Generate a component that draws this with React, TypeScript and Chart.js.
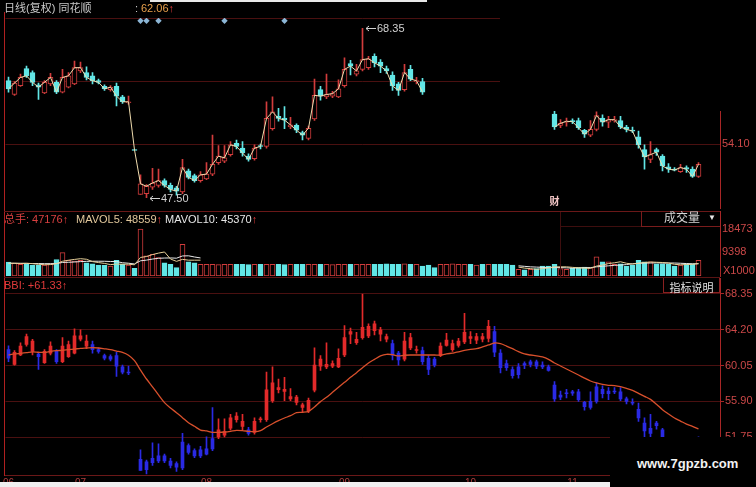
import React, { useEffect, useRef } from 'react';
import { Chart, registerables } from 'chart.js';

Chart.register(...registerables);

const FONT = "'Liberation Sans', 'Noto Sans CJK SC', 'DejaVu Sans', sans-serif";
Chart.defaults.font.family = FONT;

// ---------------- data ----------------
const MONTH_LABELS = ['06', '07', '08', '09', '10', '11'];
const MONTH_START = [0, 12, 33, 56, 77, 94];

const OPEN = [
  61.9, 60.2, 61.3, 63.4, 62.9, 61.4, 60.4, 61.5, 61.7, 60.5,
  61.1, 61.5, 63.1, 62.9, 62.5, 61.9, 61.2, 60.8, 61.2, 59.9,
  59.2, 53.37, 47.9, 48.0, 48.8, 49.0, 49.6, 49.0, 48.7, 48.2,
  50.8, 50.2, 49.6, 49.8, 50.4, 51.8, 52.0, 52.8, 54.2, 53.6,
  52.6, 52.3, 53.9, 53.8, 56.0, 57.5, 57.3, 56.2, 56.4, 55.5,
  54.8, 57.2, 60.8, 59.9, 60.0, 59.9, 61.3, 64.0, 62.7, 63.3,
  63.5, 64.9, 64.2, 63.4, 62.6, 61.5, 60.8, 63.3, 61.8, 61.8,
  60.9, 60.8, 61.2, 62.4, 61.9, 62.4, 62.8, 63.4, 63.0, 63.4,
  63.2, 64.0, 61.5, 60.3, 59.6, 59.0, 60.3, 60.2, 60.5, 60.1,
  59.9, 57.8, 56.4, 56.8, 57.0, 57.0, 55.8, 55.2, 55.9, 57.3,
  56.8, 57.0, 57.0, 56.2, 55.8, 55.0, 53.4, 52.2, 53.4, 52.6,
  51.3, 51.0, 50.7, 51.2, 51.0, 50.1,
];
const HIGH = [
  62.35, 61.8, 62.7, 63.7, 63.1, 61.6, 61.9, 62.8, 61.9, 63.3,
  62.9, 64.3, 64.2, 63.6, 62.9, 62.1, 61.4, 61.3, 61.6, 60.1,
  60.0, 53.37, 50.3, 49.1, 51.1, 51.0, 49.8, 49.3, 48.9, 52.2,
  51.0, 50.4, 50.7, 51.8, 55.2, 53.9, 53.9, 54.4, 54.6, 54.4,
  52.9, 54.0, 54.1, 59.3, 59.9, 58.5, 58.7, 57.4, 56.6, 55.7,
  56.3, 62.1, 61.2, 62.7, 60.6, 62.0, 64.7, 64.4, 63.9, 68.35,
  64.9, 65.2, 64.5, 63.7, 63.0, 61.7, 63.9, 63.8, 62.3, 62.2,
  61.2, 61.0, 62.7, 63.8, 63.0, 63.2, 66.1, 64.0, 63.8, 63.8,
  65.3, 64.6, 61.9, 60.7, 59.9, 60.3, 60.5, 60.7, 60.7, 60.5,
  60.1, 58.2, 57.1, 57.3, 57.2, 57.3, 55.9, 57.0, 58.06, 57.7,
  57.5, 57.5, 57.5, 56.4, 56.2, 55.7, 54.0, 54.4, 53.6, 52.8,
  51.7, 51.2, 51.6, 51.4, 51.3, 51.8,
];
const LOW = [
  60.5, 60.1, 61.2, 62.3, 61.3, 59.6, 60.3, 61.3, 60.3, 60.4,
  61.0, 61.4, 62.9, 62.0, 61.5, 61.5, 60.7, 60.6, 58.8, 59.1,
  59.0, 53.37, 47.9, 47.5, 48.5, 48.8, 48.8, 48.2, 47.8, 48.0,
  49.8, 49.4, 49.4, 49.7, 50.2, 51.6, 51.8, 52.6, 53.5, 52.6,
  52.0, 52.1, 53.5, 53.6, 55.8, 56.9, 56.0, 56.0, 55.5, 54.6,
  54.6, 57.0, 59.5, 59.7, 59.8, 59.8, 61.1, 62.6, 62.5, 63.1,
  63.3, 63.6, 62.9, 62.8, 60.7, 60.1, 60.6, 61.9, 61.5, 60.2,
  59.0, 59.9, 61.1, 62.3, 61.7, 62.2, 62.6, 62.6, 62.6, 62.8,
  62.8, 61.1, 59.2, 59.5, 58.6, 58.6, 59.7, 59.9, 59.7, 59.7,
  59.4, 55.9, 56.1, 56.3, 56.6, 55.9, 54.9, 55.0, 55.7, 56.3,
  56.1, 56.8, 56.0, 55.6, 55.5, 53.6, 51.0, 51.8, 52.7, 50.8,
  50.6, 50.8, 50.6, 50.6, 50.0, 50.0,
];
const CLOSE = [
  60.9, 61.6, 62.3, 62.5, 61.7, 61.1, 61.7, 62.3, 60.5, 62.3,
  62.5, 63.5, 63.5, 62.3, 61.9, 61.7, 60.9, 61.1, 60.0, 59.3,
  59.3, 53.37, 49.2, 48.9, 49.3, 49.6, 49.0, 48.5, 48.3, 51.2,
  50.0, 49.6, 50.3, 50.4, 51.6, 52.6, 52.4, 54.0, 53.8, 53.0,
  52.2, 53.6, 53.8, 57.25, 58.06, 57.25, 57.05, 56.45, 55.8, 55.2,
  56.04, 60.1, 60.0, 60.2, 60.3, 60.9, 63.3, 63.7, 63.1, 64.5,
  64.6, 64.1, 63.7, 63.1, 61.25, 60.7, 62.9, 62.1, 61.9, 60.5,
  59.6, 60.1, 62.3, 63.0, 62.6, 62.9, 63.9, 63.2, 63.4, 63.1,
  64.6, 61.6, 59.8, 59.8, 58.9, 59.9, 60.1, 60.5, 60.0, 59.9,
  59.5, 56.2, 56.65, 56.9, 56.85, 56.1, 55.3, 55.9, 57.6, 56.8,
  57.1, 57.1, 56.2, 55.9, 55.7, 54.0, 52.5, 52.8, 53.1, 51.4,
  51.0, 50.9, 51.2, 51.0, 50.1, 51.6,
];
const VOLUME = [
  5500, 5100, 4600, 4800, 4300, 4200, 4300, 4800, 6500, 9200,
  6200, 5900, 6200, 5200, 4800, 4300, 4200, 3900, 6200, 4600,
  4300, 3000, 18400, 7900, 8500, 7200, 5200, 4600, 3300, 12400,
  5600, 5200, 4600, 4600, 4600, 4500, 4600, 4600, 4600, 4600,
  4500, 4600, 4600, 4600, 4600, 4600, 4500, 4600, 4600, 4600,
  4600, 4600, 4600, 4600, 4500, 4600, 4600, 4600, 4600, 4600,
  4600, 4600, 4600, 4800, 4600, 4600, 4800, 4600, 4600, 3900,
  4300, 3300, 4600, 4600, 4800, 4600, 4600, 4600, 4300, 4600,
  4600, 4600, 4600, 4600, 4300, 2600, 2400, 2600, 2900, 3900,
  3900, 4600, 2900, 2600, 3000, 3300, 3500, 3300, 7500, 5600,
  5600, 4600, 4800, 3900, 4200, 6200, 5600, 5600, 4800, 4800,
  4600, 3900, 4300, 4800, 4800, 6200,
];
// volume moving averages are only shown on two stretches of the picture
const MAVOL_LEFT_START = 0;
const MAVOL5_LEFT = [
  5000, 5000, 4900, 5000, 4860, 4600, 4440, 4480, 4820, 5800,
  6200, 6520, 6800, 6580, 5660, 5280, 4940, 4480, 4680, 4640,
  4640, 4400, 7300, 7640, 8420, 9000, 9440, 6680, 5760, 6540,
  6220, 6220, 6220,
];
const MAVOL10_LEFT = [
  5000, 5000, 5000, 4950, 4900, 4900, 4850, 4850, 4900, 5330,
  5400, 5500, 5660, 5750, 5800, 5800, 5790, 5700, 5670, 5210,
  5020, 4730, 5970, 6240, 6660, 6960, 7060, 7100, 7000, 7880,
  7940, 7470, 7100,
];
const MAVOL_RIGHT_START = 85;
const MAVOL5_RIGHT = [
  3500, 3100, 2900, 2600, 2900, 3200, 3600, 3600, 3600, 3400,
  3200, 3100, 3000, 3900, 4300, 4900, 5200, 5600, 5000, 4700,
  5000, 5300, 5500, 5400, 5300, 5100, 4600, 4400, 4500, 4600,
  4900,
];
const MAVOL10_RIGHT = [
  4000, 3800, 3600, 3500, 3400, 3300, 3300, 3300, 3200, 3100,
  3200, 3300, 3300, 3600, 3800, 4000, 4200, 4300, 4500, 4800,
  5000, 5100, 5100, 5200, 5100, 5100, 5100, 5000, 4900, 4800,
  4800,
];
const BBI = [
  61.28, 61.40, 61.47, 61.55, 61.65, 61.60, 61.58, 61.70, 61.78, 61.82,
  61.90, 61.97, 62.05, 62.09, 62.13, 62.09, 62.00, 61.90, 61.74, 61.58,
  61.25, 60.62, 59.54, 58.50, 57.60, 56.65, 55.76, 55.14, 54.60, 54.02,
  53.44, 53.02, 52.59, 52.48, 52.32, 52.32, 52.36, 52.44, 52.55, 52.52,
  52.44, 52.40, 52.52, 52.94, 53.32, 53.67, 53.98, 54.25, 54.60, 54.64,
  54.76, 55.26, 55.88, 56.38, 56.96, 57.54, 58.11, 58.69, 59.23, 59.81,
  60.36, 60.78, 61.17, 61.36, 61.32, 61.17, 61.25, 61.28, 61.28, 61.28,
  61.28, 61.28, 61.28, 61.40, 61.51, 61.63, 61.82, 61.94, 62.01, 62.21,
  62.44, 62.67, 62.59, 62.32, 62.01, 61.67, 61.40, 61.28, 61.17, 61.05,
  60.78, 60.36, 60.01, 59.66, 59.31, 58.96, 58.61, 58.27, 58.04, 57.88,
  57.77, 57.73, 57.61, 57.42, 57.19, 56.84, 56.49, 56.14, 55.57, 54.95,
  54.45, 53.98, 53.63, 53.28, 53.02, 52.71,
];

const EVENT_MARKS = [22, 23, 25, 36, 46];
const FIN_MARK = 91;
const TOP_HIDDEN_FROM = 70;
const TOP_HIDDEN_TO = 90;

const PRICE_TICKS = [54.10, 61.86, 69.62];
const PRICE_TICK_LABELS = ['54.10', '', ''];
const VOL_TICKS = [9398, 18473];
const BBI_TICKS = [51.75, 55.90, 60.05, 64.20, 68.35];

// ---------------- style ----------------
const RED = '#d23c3c';
const CYAN = '#62e6e6';
const CLOSE_LINE = '#f0dcae';
const GRID = '#4a1010';
const AXIS = '#a82626';
const AXIS_TEXT = '#cc4848';
const BBI_UP = '#e22a2a';
const BBI_DOWN = '#2a2ae4';
const BBI_LINE = '#d8502c';
const MA5_CLR = '#e6cf98';
const MA10_CLR = '#e8e8e8';
const DIAMOND = '#8cb6d6';
const ANNOT = '#d2d2d2';

const LEFT_PAD = 5.5;
const AXIS_W = 36;
const SLOT = 6;
const X_MAX = -0.5 + (756 - AXIS_W - LEFT_PAD) / SLOT;

const N = CLOSE.length;
const IDX = Array.from({ length: N }, (_, i) => i);
const isUp = (i: number) =>
  CLOSE[i] > OPEN[i] || (CLOSE[i] === OPEN[i] && (i === 0 || CLOSE[i] >= CLOSE[i - 1]));
const topVisible = (i: number) => i < TOP_HIDDEN_FROM || i > TOP_HIDDEN_TO;
const bodyRange = (i: number, minH: number) => {
  let lo = Math.min(OPEN[i], CLOSE[i]);
  let hi = Math.max(OPEN[i], CLOSE[i]);
  if (hi - lo < minH) {
    const m = (lo + hi) / 2;
    lo = m - minH / 2;
    hi = m + minH / 2;
  }
  return [lo, hi];
};
const maSeries = (left: number[], right: number[]) =>
  IDX.map((i) => {
    let v: number | null = null;
    if (i >= MAVOL_LEFT_START && i < MAVOL_LEFT_START + left.length) v = left[i - MAVOL_LEFT_START];
    if (i >= MAVOL_RIGHT_START && i < MAVOL_RIGHT_START + right.length) v = right[i - MAVOL_RIGHT_START];
    return { x: i, y: v };
  });

const xHidden = () => ({
  type: 'linear' as const,
  min: -0.5,
  max: X_MAX,
  offset: false,
  display: false,
});

const yRight = (
  min: number,
  max: number,
  ticks: number[],
  label: (v: number, idx: number) => string,
  gridOn: boolean,
  tickLen: number,
  pad: number
) => ({
  type: 'linear' as const,
  position: 'right' as const,
  min,
  max,
  afterBuildTicks: (s: any) => {
    s.ticks = ticks.map((v) => ({ value: v }));
  },
  afterFit: (s: any) => {
    s.width = AXIS_W;
    s.paddingTop = 0;
    s.paddingBottom = 0;
  },
  border: { display: true, color: AXIS, width: 1 },
  grid: {
    color: GRID,
    drawOnChartArea: gridOn,
    drawTicks: tickLen > 0,
    tickLength: tickLen,
    tickColor: AXIS,
  },
  ticks: {
    color: AXIS_TEXT,
    font: { size: 11, family: FONT },
    padding: pad,
    autoSkip: false,
    callback: (v: any, idx: number) => label(Number(v), idx),
  },
});

const baseOptions = (padding: any) => ({
  responsive: false,
  animation: false as const,
  devicePixelRatio: 1,
  events: [] as any[],
  layout: { padding },
  plugins: { legend: { display: false }, tooltip: { enabled: false } },
});

const topAnnotations = {
  id: 'topAnnotations',
  afterDatasetsDraw(chart: any) {
    const { ctx, scales, chartArea } = chart;
    const x = scales.x;
    const y = scales.y;
    const vis = IDX.filter(topVisible);
    let hi = vis[0];
    let lo = vis[0];
    vis.forEach((i) => {
      if (HIGH[i] > HIGH[hi]) hi = i;
      if (LOW[i] < LOW[lo]) lo = i;
    });
    ctx.save();
    ctx.font = `11px ${FONT}`;
    ctx.fillStyle = ANNOT;
    ctx.strokeStyle = ANNOT;
    ctx.lineWidth = 1;
    ctx.textBaseline = 'middle';
    ctx.textAlign = 'left';
    const mark = (i: number, v: number) => {
      const px = Math.round(x.getPixelForValue(i));
      const py = Math.round(y.getPixelForValue(v)) + 0.5;
      ctx.beginPath();
      ctx.moveTo(px + 3, py);
      ctx.lineTo(px + 13, py);
      ctx.moveTo(px + 6, py - 2.5);
      ctx.lineTo(px + 3, py);
      ctx.lineTo(px + 6, py + 2.5);
      ctx.stroke();
      ctx.fillText(v.toFixed(2), px + 14, py);
    };
    mark(hi, HIGH[hi]);
    mark(lo, LOW[lo]);
    ctx.font = `bold 10px 'Noto Sans CJK SC', sans-serif`;
    ctx.fillStyle = '#f0c4c4';
    ctx.textAlign = 'center';
    ctx.fillText('财', x.getPixelForValue(FIN_MARK), chartArea.bottom - 7);
    ctx.restore();
  },
};

function topConfig(): any {
  const vis = IDX.filter(topVisible);
  return {
    type: 'bar',
    data: {
      datasets: [
        {
          type: 'line',
          order: 0,
          yAxisID: 'ym',
          data: EVENT_MARKS.map((i) => ({ x: i, y: 0.985 })),
          showLine: false,
          pointStyle: 'rectRot',
          pointRadius: 3.2,
          pointBackgroundColor: DIAMOND,
          pointBorderColor: DIAMOND,
          pointBorderWidth: 0,
        },
        {
          type: 'line',
          order: 1,
          data: IDX.map((i) => ({ x: i, y: topVisible(i) ? CLOSE[i] : null })),
          borderColor: CLOSE_LINE,
          borderWidth: 1,
          pointRadius: 0,
          spanGaps: false,
          tension: 0,
        },
        {
          type: 'bar',
          order: 2,
          data: vis.map((i) => ({ x: i, y: bodyRange(i, 0.12) })),
          backgroundColor: vis.map((i) => (isUp(i) ? '#000' : CYAN)),
          borderColor: vis.map((i) => (isUp(i) ? RED : CYAN)),
          borderWidth: 1,
          borderSkipped: false,
          barThickness: 5,
          grouped: false,
        },
        {
          type: 'bar',
          order: 3,
          data: vis.map((i) => ({ x: i, y: [LOW[i], HIGH[i]] })),
          backgroundColor: vis.map((i) => (isUp(i) ? RED : CYAN)),
          borderWidth: 0,
          barThickness: 1,
          grouped: false,
        },
      ],
    },
    options: {
      ...baseOptions({ left: LEFT_PAD, top: 18, right: 0, bottom: 1 }),
      scales: {
        x: xHidden(),
        y: yRight(46.22, 69.62, PRICE_TICKS, (_v, idx) => PRICE_TICK_LABELS[idx] ?? '', true, 0, 2),
        ym: { type: 'linear', display: false, min: 0, max: 1 },
      },
    },
    plugins: [topAnnotations],
  };
}

function volConfig(): any {
  return {
    type: 'bar',
    data: {
      datasets: [
        {
          type: 'line',
          order: 0,
          data: maSeries(MAVOL5_LEFT, MAVOL5_RIGHT),
          borderColor: MA5_CLR,
          borderWidth: 1,
          pointRadius: 0,
          spanGaps: false,
        },
        {
          type: 'line',
          order: 1,
          data: maSeries(MAVOL10_LEFT, MAVOL10_RIGHT),
          borderColor: MA10_CLR,
          borderWidth: 1,
          pointRadius: 0,
          spanGaps: false,
        },
        {
          type: 'bar',
          order: 2,
          data: IDX.map((i) => ({ x: i, y: VOLUME[i] })),
          backgroundColor: IDX.map((i) => (isUp(i) ? '#000' : CYAN)),
          borderColor: IDX.map((i) => (isUp(i) ? RED : CYAN)),
          borderWidth: 1,
          borderSkipped: false,
          barThickness: 5,
          grouped: false,
        },
      ],
    },
    options: {
      ...baseOptions({ left: LEFT_PAD, top: 0, right: 0, bottom: 1 }),
      scales: {
        x: xHidden(),
        y: yRight(0, 25548, VOL_TICKS, (v) => String(Math.round(v)), false, 0, 2),
      },
    },
  };
}

function bbiConfig(): any {
  const clr = (i: number) => (CLOSE[i] > BBI[i] ? BBI_UP : BBI_DOWN);
  const moving = IDX.filter((i) => HIGH[i] > LOW[i]);
  return {
    type: 'bar',
    data: {
      datasets: [
        {
          type: 'line',
          order: 0,
          data: IDX.map((i) => ({ x: i, y: BBI[i] })),
          borderColor: BBI_LINE,
          borderWidth: 1.3,
          pointRadius: 0,
          tension: 0.3,
        },
        {
          type: 'bar',
          order: 1,
          data: moving.map((i) => ({ x: i, y: bodyRange(i, 0) })),
          backgroundColor: moving.map(clr),
          borderWidth: 0,
          barThickness: 3,
          grouped: false,
        },
        {
          type: 'bar',
          order: 2,
          data: moving.map((i) => ({ x: i, y: [LOW[i], HIGH[i]] })),
          backgroundColor: moving.map(clr),
          borderWidth: 0,
          barThickness: 1,
          grouped: false,
        },
      ],
    },
    options: {
      ...baseOptions({ left: LEFT_PAD, top: 0, right: 0, bottom: 0 }),
      scales: {
        x: {
          type: 'linear',
          min: -0.5,
          max: X_MAX,
          offset: false,
          display: true,
          grid: { display: false, drawTicks: false, offset: false },
          border: { display: true, color: '#6a1818', width: 1 },
          afterBuildTicks: (s: any) => {
            s.ticks = MONTH_START.map((v) => ({ value: v }));
          },
          afterFit: (s: any) => {
            s.height = 12;
            s.paddingLeft = 0;
            s.paddingRight = 0;
          },
          ticks: {
            color: '#b03c3c',
            font: { size: 10, family: FONT },
            padding: 2,
            autoSkip: false,
            maxRotation: 0,
            callback: (v: any) => {
              const k = MONTH_START.indexOf(Number(v));
              return k >= 0 ? MONTH_LABELS[k] : '';
            },
          },
        },
        y: yRight(47.38, 70.2, BBI_TICKS, (v) => v.toFixed(2), true, 4, 1),
      },
    },
  };
}

const abs = (left: number, top: number, extra: any = {}): any => ({
  position: 'absolute',
  left,
  top,
  ...extra,
});

const txt = (size: number, color: string, extra: any = {}): any => ({
  fontSize: size,
  lineHeight: `${size + 2}px`,
  color,
  whiteSpace: 'pre',
  fontFamily: FONT,
  ...extra,
});

export default function App() {
  const topRef = useRef<HTMLCanvasElement>(null);
  const volRef = useRef<HTMLCanvasElement>(null);
  const bbiRef = useRef<HTMLCanvasElement>(null);

  useEffect(() => {
    const charts: Chart[] = [];
    if (topRef.current) charts.push(new Chart(topRef.current, topConfig()));
    if (volRef.current) charts.push(new Chart(volRef.current, volConfig()));
    if (bbiRef.current) charts.push(new Chart(bbiRef.current, bbiConfig()));
    return () => charts.forEach((c) => c.destroy());
  }, []);

  const arrow = <span style={{ color: '#e23a3a' }}>↑</span>;

  return (
    <div
      style={{
        position: 'fixed',
        left: 0,
        top: 0,
        width: 756,
        height: 487,
        background: '#000',
        overflow: 'hidden',
        fontFamily: FONT,
      }}
    >
      <canvas ref={topRef} width={756} height={212} style={abs(0, 0, { width: 756, height: 212 })} />
      <canvas ref={volRef} width={756} height={66} style={abs(0, 211, { width: 756, height: 66 })} />
      <canvas ref={bbiRef} width={756} height={209} style={abs(0, 278, { width: 756, height: 209 })} />

      {/* panel frame lines */}
      <div style={abs(4, 12, { width: 1, height: 464, background: '#b02020' })} />
      <div style={abs(4, 211, { width: 716, height: 1, background: '#6a1818' })} />
      <div style={abs(4, 277, { width: 716, height: 1, background: '#5a1414' })} />
      <div style={abs(560, 212, { width: 1, height: 65, background: '#3e0e0e' })} />
      <div style={abs(560, 226, { width: 81, height: 1, background: '#3e0e0e' })} />

      {/* pasted black patch on the upper right */}
      <div style={abs(500, 0, { width: 256, height: 111, background: '#000' })} />
      <div style={abs(150, 0, { width: 277, height: 2, background: '#e8e8e8' })} />

      {/* header of price panel */}
      <div style={abs(4, 2, txt(11, '#c8c8c8'))}>日线(复权) 同花顺</div>
      <div style={abs(135, 2, txt(11, '#c8c8c8'))}>:</div>
      <div style={abs(141, 2, txt(11, '#e8a04c'))}>
        62.06{arrow}
      </div>

      {/* header of volume panel */}
      <div style={abs(4, 213, txt(11, '#d84040'))}>总手: 47176{arrow}</div>
      <div style={abs(76, 213, txt(11, '#e2c89c'))}>MAVOL5: 48559{arrow}</div>
      <div style={abs(165, 213, txt(11, '#e6e6e6'))}>MAVOL10: 45370{arrow}</div>

      <div
        style={abs(641, 211, {
          width: 78,
          height: 15,
          borderLeft: '1px solid #7a1c1c',
          borderBottom: '1px solid #7a1c1c',
        })}
      >
        <span style={abs(22, 0, txt(12, '#d6d6d6'))}>成交量</span>
        <span style={abs(66, 2, txt(8, '#e8e8e8'))}>▼</span>
      </div>
      <div style={abs(723, 264, txt(11, AXIS_TEXT))}>X1000</div>

      {/* header of BBI panel */}
      <div style={abs(4, 279, txt(11, '#e03a3a'))}>BBI: +61.33{arrow}</div>
      <div
        style={abs(663, 278, {
          width: 55,
          height: 14,
          border: '1px solid #8a2020',
          borderTop: 'none',
          textAlign: 'center',
        })}
      >
        <span style={txt(11, '#e2e2e2')}>指标说明</span>
      </div>

      {/* bottom strips and watermark */}
      <div style={abs(0, 482, { width: 610, height: 5, background: '#f0f0f0' })} />
      <div style={abs(610, 437, { width: 146, height: 50, background: '#000' })}>
        <span style={abs(27, 19, txt(13, '#f2f2f2', { fontWeight: 'bold' }))}>www.7gpzb.com</span>
      </div>
    </div>
  );
}
